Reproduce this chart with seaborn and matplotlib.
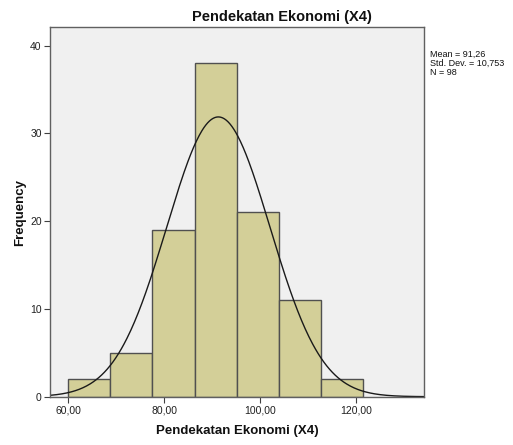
import numpy as np
import pandas as pd
import matplotlib
matplotlib.use("Agg")
import matplotlib.pyplot as plt
import seaborn as sns

# Frequency table for Pendekatan Ekonomi (X4)
bin_start = 60.0
bin_width = 8.77
counts = [2, 5, 19, 38, 21, 11, 2]
x_ticks = [60, 80, 100, 120]
y_ticks = [0, 10, 20, 30, 40]
mean_val = 91.26
std_val = 10.753
n_val = 98

edges = bin_start + bin_width * np.arange(len(counts) + 1)
centers = (edges[:-1] + edges[1:]) / 2
df = pd.DataFrame({"score": centers, "freq": counts})

sns.set_theme(style="white")
plt.rcParams["font.family"] = ["Liberation Sans", "DejaVu Sans"]

fig = plt.figure(figsize=(5.13, 4.45), dpi=100)
fig.patch.set_facecolor("white")
ax = fig.add_axes([50 / 513, 1 - 396.7 / 445, (424.3 - 50) / 513, (396.7 - 27.3) / 445])
ax.set_facecolor("#f0f0f0")

sns.histplot(data=df, x="score", weights="freq", bins=list(edges), ax=ax,
             color="#d3cf98", alpha=1.0, edgecolor="#505050", linewidth=1.0)

# Fitted normal curve scaled to the histogram
xs = np.linspace(56.19, 134.17, 400)
ys = n_val * bin_width * np.exp(-0.5 * ((xs - mean_val) / std_val) ** 2) / (std_val * np.sqrt(2 * np.pi))
sns.lineplot(x=xs, y=ys, ax=ax, color="#1a1a1a", linewidth=1.0)

ax.set_xlim(56.19, 134.17)
ax.set_ylim(0, 42.1)
ax.set_xticks(x_ticks)
ax.set_xticklabels([f"{v:.2f}".replace(".", ",") for v in x_ticks])
ax.set_yticks(y_ticks)
ax.tick_params(axis="both", direction="out", length=4, width=0.8, color="#404040",
               labelsize=7.5, labelcolor="#202020", pad=2,
               bottom=True, left=True, top=False, right=False)
for s in ax.spines.values():
    s.set_color("#606060")
    s.set_linewidth(1.0)

ax.set_xlabel("Pendekatan Ekonomi (X4)", fontsize=9.5, fontweight="bold", color="#111111", labelpad=7)
ax.set_ylabel("Frequency", fontsize=9.5, fontweight="bold", color="#111111", labelpad=3)

fig.text(281.5 / 513, 1 - 16.5 / 445, "Pendekatan Ekonomi (X4)", ha="center", va="center",
         fontsize=10.5, fontweight="bold", color="#111111")
fig.text(430.5 / 513, 1 - 50 / 445, "Mean = 91,26\nStd. Dev. = 10,753\nN = 98",
         ha="left", va="top", fontsize=6.5, color="#111111", linespacing=1.0)

fig.savefig("out.png", dpi=100, facecolor="white")
